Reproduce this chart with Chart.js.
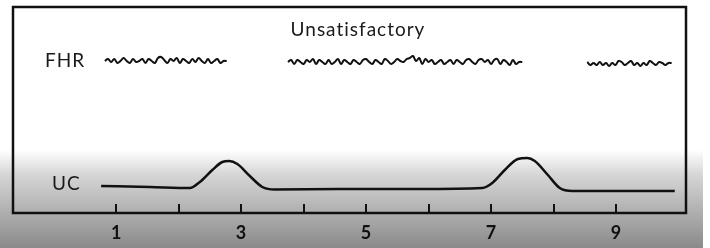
<!DOCTYPE html>
<html>
<head>
<meta charset="utf-8">
<script src="https://cdn.jsdelivr.net/npm/chart.js@4.4.1/dist/chart.umd.min.js"></script>
<style>
  html, body { margin: 0; padding: 0; background: #fff; }
  #wrap { width: 710px; height: 248px; }
</style>
</head>
<body>
<div id="wrap"><canvas id="myChart" width="710" height="248"></canvas></div>
<script>
// time axis (minutes) and labels
const tickValues = [1, 2, 3, 4, 5, 6, 7, 8, 9];
const tickLabels = ['1', '', '3', '', '5', '', '7', '', '9'];

// FHR trace segments: start time, sample step, and hand-read wiggle heights
const fhr1Start = 0.82;
const fhr1Values = [152,154,151,154,150,152,155,152,150,154,151,152,154,150,154,152,150,155,156,153,
                    150,154,152,155,150,154,152,150,154,151,155,152,150,154,150,152,154,150,152,152];
const fhr2Start = 3.75;
const fhr2Values = [151,153,149,153,151,149,153,151,154,149,153,151,149,153,149,151,154,149,153,151,
                    149,153,151,149,153,154,151,149,153,151,149,154,152,149,151,154,152,151,154,155,
                    157,152,155,149,154,151,153,149,151,153,149,151,153,149,153,151,149,153,154,151,
                    149,153,154,151,153,149,153,154,149,153,151,148,153,149,151,151];
const fhr3Start = 8.54;
const fhr3Values = [151,148,150,148,151,148,150,147,150,148,152,151,148,150,152,148,150,147,150,148,
                    152,150,148,151,150,148,150,150];
const fhrStep = 0.05;

// UC trace (time, height)
const ucTimes  = [0.76, 1.54, 2.18, 2.34, 2.54, 2.70, 2.81, 2.94, 3.14, 3.34, 3.54, 4.58, 5.86,
                  6.86, 7.02, 7.22, 7.43, 7.58, 7.70, 7.91, 8.10, 8.30, 9.06, 9.94];
const ucValues = [27, 26, 25, 31, 43, 51, 52, 49, 37, 26, 23.5, 24, 24,
                  25, 30, 43, 54, 55, 52, 38, 25, 22, 22, 22];

function toPoints(start, values) {
    return values.map((v, i) => ({ x: start + i * fhrStep, y: v }));
}

const backdrop = {
    id: 'backdrop',
    beforeDraw(chart) {
        const c = chart.ctx;
        const h = chart.height;
        const g = c.createLinearGradient(0, 150, 0, h);
        g.addColorStop(0, '#ffffff');
        g.addColorStop(0.25, '#d6d6d6');
        g.addColorStop(1, '#8a8a8a');
        c.save();
        c.fillStyle = '#ffffff';
        c.fillRect(0, 0, chart.width, h);
        c.fillStyle = g;
        c.fillRect(0, 150, 703, h - 150);
        c.restore();
    }
};

const frame = {
    id: 'frame',
    afterDraw(chart) {
        const c = chart.ctx;
        const a = chart.chartArea;
        const xs = chart.scales.x;
        c.save();
        c.strokeStyle = '#111';
        c.lineWidth = 2.5;
        c.strokeRect(a.left, a.top, a.right - a.left, a.bottom - a.top);
        // inward tick marks
        c.lineWidth = 2;
        tickValues.forEach(v => {
            const px = Math.round(xs.getPixelForValue(v));
            c.beginPath();
            c.moveTo(px, a.bottom);
            c.lineTo(px, a.bottom - 9);
            c.stroke();
        });
        c.fillStyle = '#1a1a1a';
        c.textBaseline = 'middle';
        c.font = '19px Lato';
        c.letterSpacing = '1px';
        c.textAlign = 'center';
        c.fillText('Unsatisfactory', 358, 30);
        c.textAlign = 'left';
        c.fillText('FHR', 45, 61);
        c.fillText('UC', 52, 184);
        c.restore();
    }
};

const lineStyle = {
    borderColor: '#111',
    borderWidth: 2.5,
    pointRadius: 0,
    fill: false,
    tension: 0.4
};

const ctx = document.getElementById('myChart').getContext('2d');
const myChart = new Chart(ctx, {
    type: 'line',
    data: {
        datasets: [
            { label: 'FHR', data: toPoints(fhr1Start, fhr1Values), ...lineStyle, borderWidth: 2 },
            { label: 'FHR', data: toPoints(fhr2Start, fhr2Values), ...lineStyle, borderWidth: 2 },
            { label: 'FHR', data: toPoints(fhr3Start, fhr3Values), ...lineStyle, borderWidth: 2 },
            { label: 'UC', data: ucTimes.map((t, i) => ({ x: t, y: ucValues[i] })), ...lineStyle, cubicInterpolationMode: 'monotone' }
        ]
    },
    options: {
        responsive: false,
        animation: false,
        layout: { padding: { left: 13, right: 24, top: 7, bottom: 0 } },
        plugins: { legend: { display: false }, tooltip: { enabled: false } },
        scales: {
            x: {
                type: 'linear',
                min: -0.65,
                max: 10.12,
                afterBuildTicks: scale => { scale.ticks = tickValues.map(v => ({ value: v })); },
                afterFit: scale => { scale.height = 35; },
                grid: { display: false, drawTicks: false },
                border: { display: false },
                ticks: {
                    autoSkip: false,
                    maxRotation: 0,
                    padding: 9,
                    color: '#111',
                    font: { family: 'Lato', size: 18, weight: 'bold' },
                    callback: (v, i) => tickLabels[i]
                }
            },
            y: {
                display: false,
                min: 0,
                max: 206
            }
        }
    },
    plugins: [backdrop, frame]
});
</script>
</body>
</html>
